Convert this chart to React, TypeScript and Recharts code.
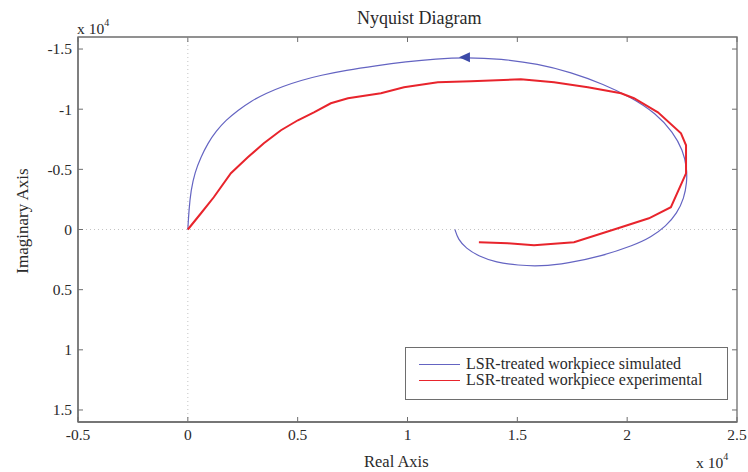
import React from "react";
import { LineChart, Line, XAxis, YAxis, ReferenceLine, ReferenceArea } from "recharts";

// values in units of 1e4
const simulatedReal = [
  0, 0.005, 0.014, 0.032, 0.059, 0.091, 0.128, 0.173, 0.228, 0.287, 0.355, 0.433, 0.515, 0.606, 0.719,
  0.856, 0.993, 1.129, 1.266, 1.425, 1.594, 1.744, 1.894, 2.017, 2.131, 2.209, 2.254, 2.272, 2.272, 2.259,
  2.227, 2.177, 2.108, 2.031, 1.881, 1.73, 1.607, 1.503, 1.403, 1.325, 1.266, 1.23, 1.216,
];
const simulatedImag = [
  0, -0.16, -0.326, -0.475, -0.6, -0.717, -0.816, -0.908, -0.991, -1.066, -1.132, -1.19, -1.24, -1.282,
  -1.323, -1.361, -1.394, -1.419, -1.431, -1.419, -1.377, -1.307, -1.207, -1.099, -0.966, -0.808, -0.658,
  -0.509, -0.392, -0.259, -0.135, -0.027, 0.065, 0.131, 0.223, 0.281, 0.306, 0.298, 0.273, 0.223, 0.156,
  0.081, 0,
];
const experimentalReal = [
  0, 0.059, 0.118, 0.196, 0.273, 0.346, 0.424, 0.501, 0.574, 0.651, 0.729, 0.879, 0.984, 1.138, 1.289,
  1.516, 1.667, 1.821, 1.972, 2.031, 2.14, 2.245, 2.268, 2.268, 2.199, 2.099, 1.958, 1.758, 1.576, 1.457,
  1.325,
];
const experimentalImag = [
  0, -0.133, -0.268, -0.468, -0.6, -0.717, -0.825, -0.908, -0.974, -1.049, -1.091, -1.132, -1.182, -1.224,
  -1.232, -1.249, -1.224, -1.182, -1.132, -1.091, -0.974, -0.8, -0.7, -0.467, -0.185, -0.093, -0.01, 0.106,
  0.131, 0.115, 0.106,
];
const xTicks = [-0.5, 0, 0.5, 1, 1.5, 2, 2.5];
const yTicks = [-1.5, -1, -0.5, 0, 0.5, 1, 1.5];
const arrowIndex = 18;

const W = 748;
const H = 472;
const M = { top: 37, right: 11, left: 78, bottom: 50 };
const PLOT_W = W - M.left - M.right;
const PLOT_H = H - M.top - M.bottom;

const FONT = "'Liberation Serif', 'Times New Roman', serif";
const AXIS = "#6e6e6e";
const TEXT = "#2a2a2a";
const BLUE = "#6464c2";
const RED = "#e8242c";

const simulated = simulatedReal.map((x, i) => ({ x, y: simulatedImag[i] }));
const experimental = experimentalReal.map((x, i) => ({ x, y: experimentalImag[i] }));

function XTick({ x, y, payload }: any) {
  return (
    <g>
      <line x1={x} x2={x} y1={y} y2={y - 5} stroke={AXIS} />
      <line x1={x} x2={x} y1={y - PLOT_H} y2={y - PLOT_H + 5} stroke={AXIS} />
      <text x={x} y={y + 18} textAnchor="middle" fill={TEXT} fontSize={15.5} fontFamily={FONT}>
        {payload.value}
      </text>
    </g>
  );
}

function YTick({ x, y, payload }: any) {
  return (
    <g>
      <line x1={x} x2={x + 5} y1={y} y2={y} stroke={AXIS} />
      <line x1={x + PLOT_W - 5} x2={x + PLOT_W} y1={y} y2={y} stroke={AXIS} />
      <text x={x - 6} y={y} dy="0.35em" textAnchor="end" fill={TEXT} fontSize={15.5} fontFamily={FONT}>
        {payload.value}
      </text>
    </g>
  );
}

function ArrowDot(props: any) {
  const { cx, cy, index } = props;
  if (index !== arrowIndex) return <g key={`d${index}`} />;
  return (
    <polygon
      key={`d${index}`}
      points={`${cx - 7},${cy} ${cx + 4},${cy - 5} ${cx + 4},${cy + 5}`}
      fill="#3c4aa8"
    />
  );
}

const txt = (style: React.CSSProperties): React.CSSProperties => ({
  position: "absolute",
  fontFamily: FONT,
  color: TEXT,
  whiteSpace: "nowrap",
  lineHeight: 1,
  ...style,
});

export default function App() {
  return (
    <div style={{ position: "absolute", left: 0, top: 0, width: W, height: H, background: "#fff" }}>
      <LineChart width={W} height={H} margin={{ top: M.top, right: M.right, left: 0, bottom: 0 }}>
        <XAxis
          type="number"
          dataKey="x"
          domain={[-0.5, 2.5]}
          ticks={xTicks}
          allowDataOverflow
          height={M.bottom}
          stroke={AXIS}
          strokeWidth={1.3}
          tickLine={false}
          tickSize={0}
          tickMargin={0}
          tick={<XTick />}
        />
        <YAxis
          type="number"
          dataKey="y"
          domain={[-1.6, 1.6]}
          ticks={yTicks}
          reversed
          allowDataOverflow
          width={M.left}
          stroke={AXIS}
          strokeWidth={1.3}
          tickLine={false}
          tickSize={0}
          tickMargin={0}
          tick={<YTick />}
        />
        <ReferenceArea x1={-0.5} x2={2.5} y1={-1.6} y2={1.6} fill="none" stroke={AXIS} strokeWidth={1.3} />
        <ReferenceLine x={0} stroke="#c4c4c4" strokeDasharray="1 3" />
        <ReferenceLine y={0} stroke="#c4c4c4" strokeDasharray="1 3" />
        <Line
          data={simulated}
          dataKey="y"
          type="basis"
          stroke={BLUE}
          strokeWidth={1.2}
          dot={ArrowDot}
          activeDot={false}
          isAnimationActive={false}
        />
        <Line
          data={experimental}
          dataKey="y"
          type="linear"
          stroke={RED}
          strokeWidth={2}
          dot={false}
          activeDot={false}
          isAnimationActive={false}
        />
      </LineChart>

      <div style={txt({ left: 357, top: 9, fontSize: 18 })}>Nyquist Diagram</div>
      <div style={txt({ left: 77, top: 18, fontSize: 15.5 })}>
        x 10<sup style={{ fontSize: 10, verticalAlign: 8 }}>4</sup>
      </div>
      <div style={txt({ left: 696, top: 452, fontSize: 15.5 })}>
        x 10<sup style={{ fontSize: 10, verticalAlign: 8 }}>4</sup>
      </div>
      <div style={txt({ left: 364, top: 454, fontSize: 16.5 })}>Real Axis</div>
      <div
        style={txt({
          left: 22,
          top: 221,
          fontSize: 17,
          transform: "translate(-50%, -50%) rotate(-90deg)",
        })}
      >
        Imaginary Axis
      </div>

      <div
        style={{
          position: "absolute",
          left: 405,
          top: 347,
          width: 323,
          height: 53,
          border: `1px solid ${AXIS}`,
          background: "#fff",
          boxSizing: "border-box",
          fontFamily: FONT,
          fontSize: 16,
          color: TEXT,
        }}
      >
        {[
          { name: "LSR-treated workpiece simulated", color: BLUE },
          { name: "LSR-treated workpiece experimental", color: RED },
        ].map((s, i) => (
          <div key={s.name} style={{ position: "absolute", left: 13, top: 8 + i * 16, display: "flex", alignItems: "center" }}>
            <span style={{ width: 41, height: 0, borderTop: `1.2px solid ${s.color}`, marginRight: 6 }} />
            <span style={{ lineHeight: "16px" }}>{s.name}</span>
          </div>
        ))}
      </div>
    </div>
  );
}
